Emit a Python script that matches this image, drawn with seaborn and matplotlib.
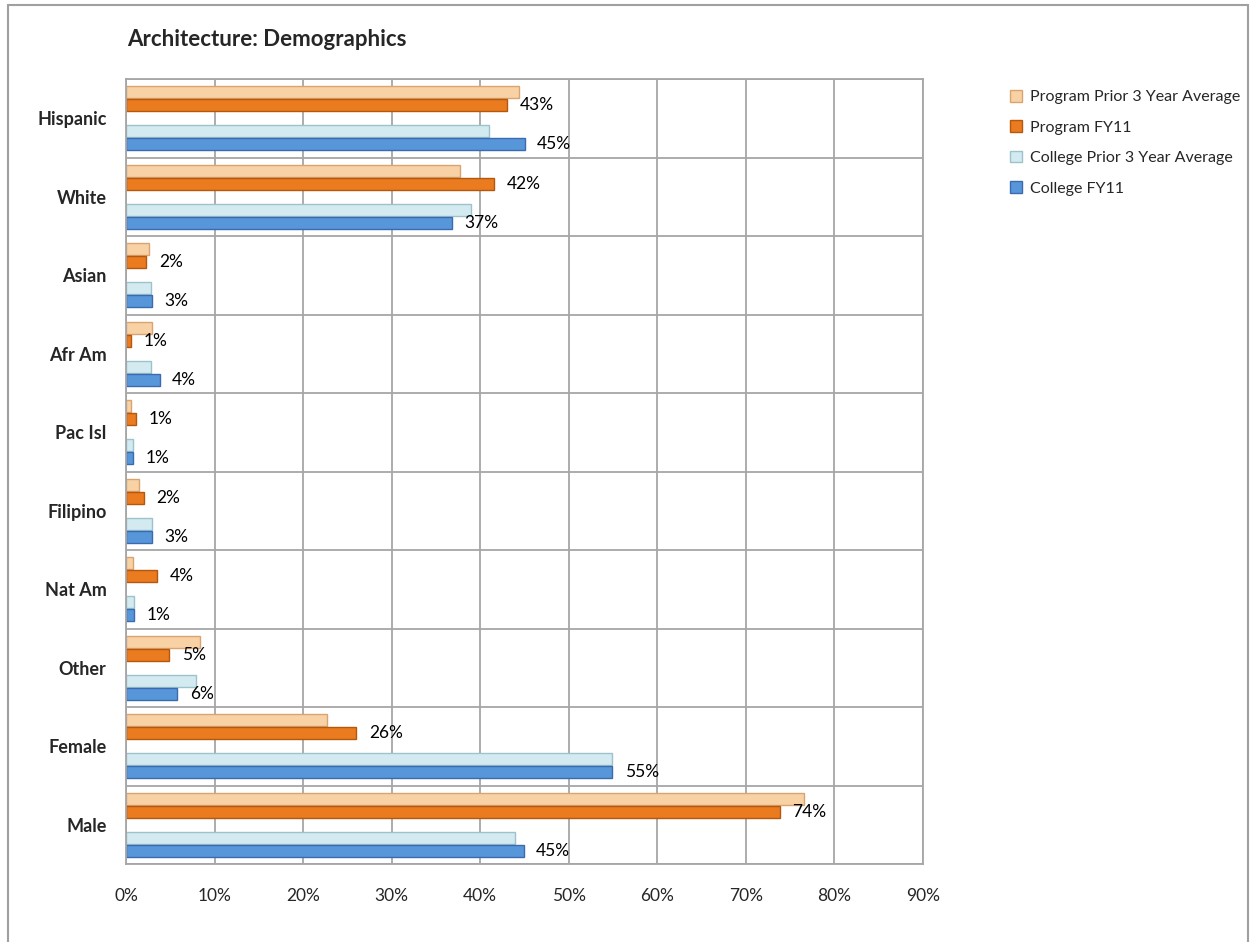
import numpy as np
import pandas as pd
import matplotlib
matplotlib.use("Agg")
import matplotlib.pyplot as plt
import matplotlib.colors as mcolors
from matplotlib.patches import Patch, Rectangle
import seaborn as sns

# ---------------- data ----------------
categories = ["Hispanic", "White", "Asian", "Afr Am", "Pac Isl",
              "Filipino", "Nat Am", "Other", "Female", "Male"]
series_names = ["Program Prior 3 Year Average", "Program FY11",
                "College Prior 3 Year Average", "College FY11"]
program_prior = [44.4, 37.7, 2.6, 2.9, 0.6, 1.5, 0.8, 8.4, 22.7, 76.6]
program_fy11 = [43.0, 41.6, 2.3, 0.6, 1.1, 2.0, 3.5, 4.9, 26.0, 73.8]
college_prior = [41.0, 39.0, 2.8, 2.8, 0.8, 2.9, 0.9, 7.9, 54.9, 43.9]
college_fy11 = [45.0, 36.8, 2.9, 3.8, 0.8, 2.9, 0.9, 5.8, 54.9, 44.9]
labeled_series = ["Program FY11", "College FY11"]
x_ticks = [0, 10, 20, 30, 40, 50, 60, 70, 80, 90]
x_tick_labels = ["0%", "10%", "20%", "30%", "40%", "50%", "60%", "70%", "80%", "90%"]
title = "Architecture: Demographics"

# ---------------- styling ----------------
fill = {"Program Prior 3 Year Average": "#F8D1A4",
        "Program FY11": "#EA7B1E",
        "College Prior 3 Year Average": "#D2EAF0",
        "College FY11": "#5896DA"}
edge = {"Program Prior 3 Year Average": "#D9A472",
        "Program FY11": "#B4570F",
        "College Prior 3 Year Average": "#9DC2CB",
        "College FY11": "#3A6BAF"}
spacer = " "
GRID = "#A6A6A6"

sns.set_style("white")
plt.rcParams["font.family"] = ["Lato", "DejaVu Sans"]

values = [program_prior, program_fy11, college_prior, college_fy11]
rows = []
for name, vals in zip(series_names, values):
    for cat, v in zip(categories, vals):
        rows.append({"category": cat, "series": name, "value": v})
df = pd.DataFrame(rows)

hue_order = [series_names[0], series_names[1], spacer, series_names[2], series_names[3]]
palette = dict(fill)
palette[spacer] = "#FFFFFF"

fig = plt.figure(figsize=(12.5, 9.42), dpi=100)
W, H = 1250, 942
ax = fig.add_axes([126 / W, 1 - 864 / H, (923 - 126) / W, (864 - 79) / H])

sns.barplot(data=df, y="category", x="value", hue="series", hue_order=hue_order,
            order=categories, palette=palette, orient="h", width=0.83, gap=0.06,
            dodge=True, errorbar=None, saturation=1, legend=False, ax=ax)

hex_to_name = {mcolors.to_hex(c): n for n, c in fill.items()}
for container in ax.containers:
    if len(container.patches) == 0:
        continue
    name = hex_to_name.get(mcolors.to_hex(container.patches[0].get_facecolor()))
    if name is None:
        continue
    for p in container.patches:
        p.set_edgecolor(edge[name])
        p.set_linewidth(1.0)
    if name in labeled_series:
        ax.bar_label(container, fmt=lambda v: f"{round(v)}%", padding=9,
                     fontsize=12.5, color="#000000")

ax.set_xlim(0, 90)
ax.set_xticks(x_ticks)
ax.set_xticklabels(x_tick_labels)
ax.set_ylim(len(categories) - 0.5, -0.5)
ax.set_yticks(np.arange(-0.5, len(categories), 1.0), minor=True)
ax.set_xlabel("")
ax.set_ylabel("")
ax.set_axisbelow(True)
ax.grid(axis="x", which="major", color=GRID, lw=1.3)
ax.grid(axis="y", which="minor", color=GRID, lw=1.3)
ax.grid(axis="y", which="major", visible=False)
ax.tick_params(axis="y", which="major", length=0, pad=14, labelsize=13)
ax.tick_params(axis="y", which="minor", length=9, width=1.3, color=GRID)
ax.tick_params(axis="x", which="both", length=0, pad=17, labelsize=12.5)
for t in ax.get_yticklabels():
    t.set_fontweight("bold")
for s in ax.spines.values():
    s.set_color(GRID)
    s.set_linewidth(1.3)

fig.text(127 / W, 1 - 46 / H, title, fontsize=16, fontweight="bold",
         va="baseline", ha="left")

handles = [Patch(facecolor=fill[n], edgecolor=edge[n], lw=1.0) for n in series_names]
fig.legend(handles, series_names, loc="upper left",
           bbox_to_anchor=(1010 / W, 1 - 90 / H), frameon=False, fontsize=11.5,
           handlelength=0.75, handleheight=0.75, handletextpad=0.5,
           labelspacing=1.0, borderpad=0, borderaxespad=0)

fig.add_artist(Rectangle((8 / W, -0.01), (1248 - 8) / W, (942 - 5) / H + 0.01,
                         transform=fig.transFigure, fill=False,
                         edgecolor="#A0A0A0", lw=1.5))

fig.savefig("out.png", dpi=100, facecolor="white")
